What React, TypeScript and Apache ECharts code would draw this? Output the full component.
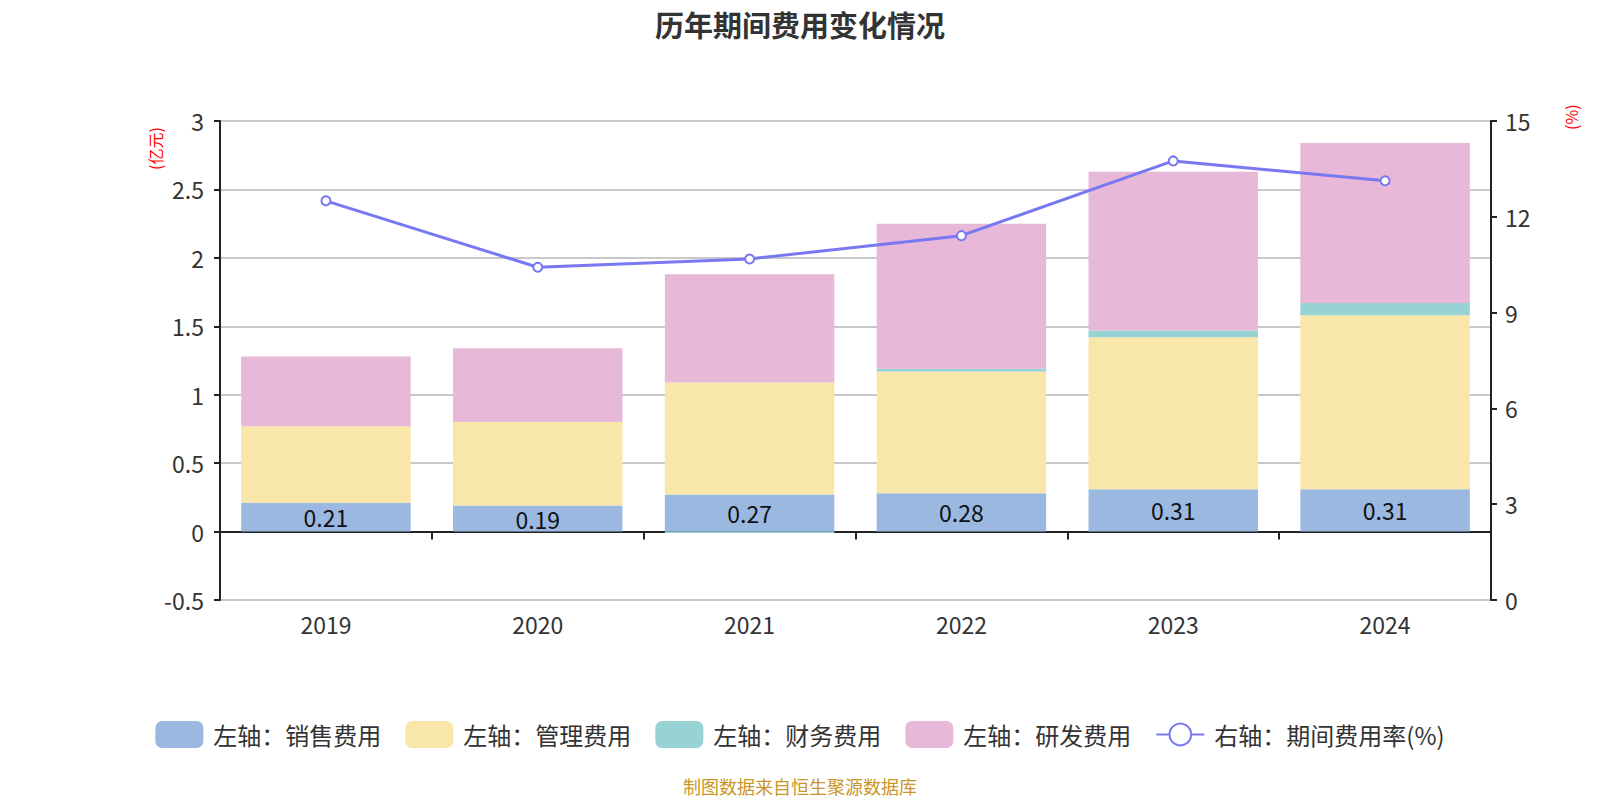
import React, { useEffect, useRef } from "react";
import * as echarts from "echarts";

const years = ["2019", "2020", "2021", "2022", "2023", "2024"];
const salesExp = [0.21, 0.19, 0.27, 0.28, 0.31, 0.31];
const mgmtExp = [0.56, 0.61, 0.82, 0.89, 1.11, 1.27];
const finExp = [0.0, 0.0, -0.01, 0.02, 0.05, 0.09];
const rdExp = [0.51, 0.54, 0.79, 1.06, 1.16, 1.17];
const expRate = [12.5, 10.42, 10.68, 11.41, 13.75, 13.13];

const FONT = "'Noto Sans CJK SC', 'Noto Sans', sans-serif";

export default function App() {
  const ref = useRef<HTMLDivElement>(null);
  useEffect(() => {
    if (!ref.current) return;
    const chart = echarts.init(ref.current, undefined, { renderer: "svg" });
    const barBase = {
      type: "bar",
      stack: "total",
      yAxisIndex: 0,
      barCategoryGap: "20%",
    };
    chart.setOption({
      animation: false,
      textStyle: { fontFamily: FONT },
      title: {
        text: "历年期间费用变化情况",
        left: "center",
        top: 4,
        textStyle: { fontSize: 29, fontWeight: "bold", color: "#333", fontFamily: FONT },
      },
      grid: { left: 220, right: 109, top: 121, bottom: 200 },
      legend: {
        top: 716,
        left: "center",
        itemWidth: 48,
        itemHeight: 27,
        itemGap: 24,
        textStyle: { fontSize: 24, color: "#333", fontFamily: FONT, padding: [0, 0, 0, 5] },
        data: [
          { name: "左轴：销售费用", icon: "roundRect" },
          { name: "左轴：管理费用", icon: "roundRect" },
          { name: "左轴：财务费用", icon: "roundRect" },
          { name: "左轴：研发费用", icon: "roundRect" },
          { name: "右轴：期间费用率(%)" },
        ],
      },
      xAxis: [
        {
          type: "category",
          data: years,
          position: "bottom",
          axisLine: { show: false, onZero: false },
          axisTick: { show: false },
          axisLabel: { fontSize: 23, color: "#333", margin: 12 },
        },
        {
          type: "category",
          data: years,
          position: "bottom",
          axisLine: { show: true, onZero: true, lineStyle: { color: "#222", width: 2 } },
          axisTick: { show: true, length: 8, lineStyle: { color: "#222", width: 2 } },
          axisLabel: { show: false },
        },
      ],
      yAxis: [
        {
          type: "value",
          min: -0.5,
          max: 3,
          interval: 0.5,
          position: "left",
          axisLine: { show: true, lineStyle: { color: "#222", width: 2 } },
          axisTick: { show: true, length: 6, lineStyle: { color: "#222", width: 2 } },
          axisLabel: { fontSize: 23, color: "#333", margin: 16 },
          splitLine: { show: true, lineStyle: { color: "#c8c8c8", width: 2 } },
        },
        {
          type: "value",
          min: 0,
          max: 15,
          interval: 3,
          position: "right",
          axisLine: { show: true, lineStyle: { color: "#222", width: 2 } },
          axisTick: { show: true, length: 6, lineStyle: { color: "#222", width: 2 } },
          axisLabel: { fontSize: 23, color: "#333", margin: 14 },
          splitLine: { show: false },
        },
      ],
      graphic: [
        {
          type: "text",
          x: 147,
          y: 170,
          rotation: Math.PI / 2,
          style: { text: "(亿元)", fontSize: 16, fill: "#ff0000", fontFamily: FONT },
        },
        {
          type: "text",
          x: 1563,
          y: 130,
          rotation: Math.PI / 2,
          style: { text: "(%)", fontSize: 16, fill: "#ff0000", fontFamily: FONT },
        },
        {
          type: "text",
          left: "center",
          top: 777,
          style: { text: "制图数据来自恒生聚源数据库", fontSize: 18, fill: "#c9962a", fontFamily: FONT },
        },
      ],
      series: [
        {
          ...barBase,
          name: "左轴：销售费用",
          data: salesExp,
          itemStyle: { color: "#9bb8e1" },
          label: { show: true, position: "inside", fontSize: 23, color: "#111" },
        },
        { ...barBase, name: "左轴：管理费用", data: mgmtExp, itemStyle: { color: "#f8e7a9" } },
        { ...barBase, name: "左轴：财务费用", data: finExp, itemStyle: { color: "#97d3d4" } },
        { ...barBase, name: "左轴：研发费用", data: rdExp, itemStyle: { color: "#e7b8d8" } },
        {
          type: "line",
          name: "右轴：期间费用率(%)",
          yAxisIndex: 1,
          data: expRate,
          symbol: "emptyCircle",
          symbolSize: 9,
          lineStyle: { color: "#7878f2", width: 3 },
          itemStyle: { color: "#7878f2", borderWidth: 2 },
          z: 5,
        },
      ],
    });
    return () => chart.dispose();
  }, []);
  return (
    <div
      ref={ref}
      style={{ position: "fixed", left: 0, top: 0, width: 1600, height: 800, background: "#fff" }}
    />
  );
}
